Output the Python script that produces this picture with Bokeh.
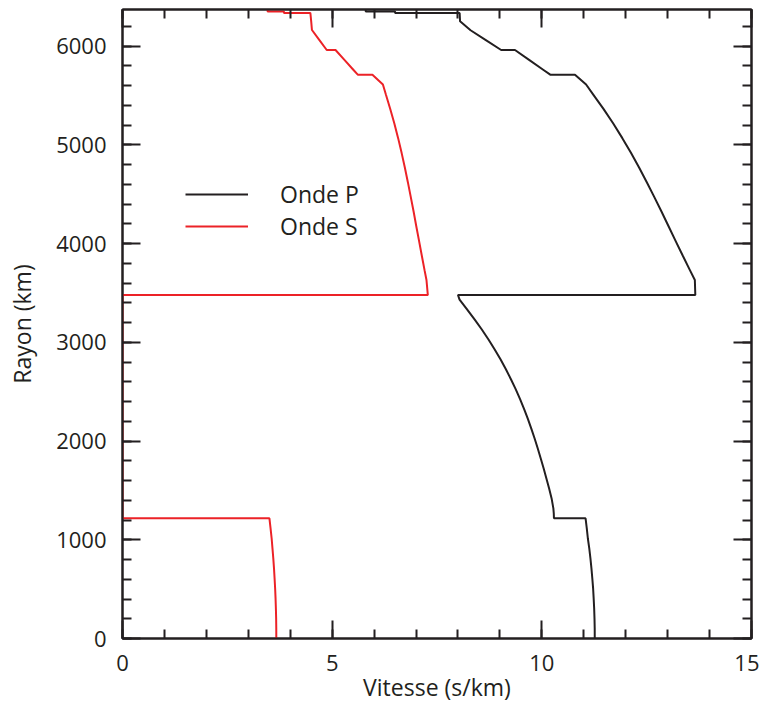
from bokeh.plotting import figure
from bokeh.models import (LinearAxis, SingleIntervalTicker, Range1d, Legend,
                          LegendItem, ColumnDataSource, CustomJSTickFormatter)
from bokeh.embed import file_html
from bokeh.resources import INLINE

# ---- data: radius (km) and velocity (ak135-like model) ----
p_radius = [6371, 6351, 6351, 6336, 6336, 6251, 6161, 6061, 5961, 5961, 5861, 5761,
            5711, 5711, 5611, 5512, 5364, 5216, 5068, 4919, 4770, 4622, 4473, 4325,
            4176, 4028, 3879, 3731, 3631, 3479.5, 3479.5, 3432, 3331, 3230, 3130,
            3029, 2928, 2828, 2727, 2626, 2526, 2425, 2324, 2224, 2123, 2023, 1922,
            1821, 1721, 1620, 1519, 1419, 1318, 1268, 1217.5, 1217.5, 1115, 1013,
            911, 811, 710, 608, 507, 406, 304, 203, 101, 0]
p_speed = [5.80, 5.80, 6.50, 6.50, 8.04, 8.05, 8.30, 8.665, 9.03, 9.36, 9.696, 10.032,
           10.20, 10.79, 11.056, 11.222, 11.470, 11.703, 11.920, 12.125, 12.319,
           12.503, 12.680, 12.853, 13.022, 13.189, 13.359, 13.531, 13.649, 13.660,
           8.000, 8.038, 8.221, 8.400, 8.569, 8.728, 8.876, 9.014, 9.143, 9.263,
           9.376, 9.481, 9.578, 9.667, 9.751, 9.830, 9.905, 9.976, 10.044, 10.109,
           10.174, 10.233, 10.275, 10.285, 10.289, 11.043, 11.072, 11.098, 11.132,
           11.159, 11.183, 11.204, 11.223, 11.236, 11.248, 11.256, 11.261, 11.262]

s_radius = [6371, 6351, 6351, 6336, 6336, 6251, 6161, 6161, 6061, 5961, 5961, 5861,
            5761, 5711, 5711, 5611, 5512, 5364, 5216, 5068, 4919, 4770, 4622, 4473,
            4325, 4176, 4028, 3879, 3731, 3631, 3479.5, 3479.5, 1217.5, 1217.5, 1115,
            1013, 911, 811, 710, 608, 507, 406, 304, 203, 101, 0]
s_speed = [3.46, 3.46, 3.85, 3.85, 4.48, 4.50, 4.518, 4.523, 4.696, 4.87, 5.08, 5.292,
           5.504, 5.61, 5.96, 6.21, 6.279, 6.385, 6.483, 6.573, 6.656, 6.733, 6.805,
           6.874, 6.942, 7.006, 7.072, 7.137, 7.203, 7.249, 7.281, 0.0, 0.0, 3.504,
           3.531, 3.557, 3.577, 3.596, 3.613, 3.627, 3.640, 3.650, 3.658, 3.664,
           3.667, 3.668]

series_labels = ["Onde P", "Onde S"]
x_label = "Vitesse (s/km)"
y_label = "Rayon (km)"

INK = "#231f20"
RED = "#ec2227"
FONT = "Open Sans"

p = figure(frame_width=629, frame_height=629,
           x_range=Range1d(0, 15), y_range=Range1d(0, 6371),
           output_backend="svg", toolbar_location=None,
           min_border_left=122, min_border_right=8, min_border_top=9,
           min_border_bottom=68)
p.grid.visible = False
p.outline_line_color = INK
p.outline_line_width = 2
p.outline_line_alpha = 1

src_p = ColumnDataSource(dict(x=p_speed, y=p_radius))
src_s = ColumnDataSource(dict(x=s_speed, y=s_radius))
rs = p.line("x", "y", source=src_s, line_color=RED, line_width=2)
rp = p.line("x", "y", source=src_p, line_color=INK, line_width=2)

def style(ax, labels=True):
    ax.axis_line_color = INK
    ax.axis_line_width = 2
    ax.major_tick_in = 18
    ax.major_tick_out = 0
    ax.minor_tick_in = 9
    ax.minor_tick_out = 0
    ax.major_tick_line_color = INK
    ax.minor_tick_line_color = INK
    ax.major_tick_line_width = 2
    ax.minor_tick_line_width = 2
    if labels:
        ax.major_label_text_font = FONT
        ax.major_label_text_font_size = "22px"
        ax.major_label_text_color = INK
        ax.axis_label_text_font = FONT
        ax.axis_label_text_font_size = "23px"
        ax.axis_label_text_font_style = "normal"
        ax.axis_label_text_color = INK
    else:
        ax.formatter = CustomJSTickFormatter(code="return ''")
        ax.major_label_standoff = 0

xt = SingleIntervalTicker(interval=5, num_minor_ticks=5)
yt = SingleIntervalTicker(interval=1000, num_minor_ticks=5)

xa = p.xaxis[0]
xa.ticker = xt
xa.axis_label = x_label
xa.major_label_standoff = 16
xa.axis_label_standoff = -3
style(xa)

ya = p.yaxis[0]
ya.ticker = yt
ya.axis_label = y_label
ya.major_label_standoff = 16
ya.axis_label_standoff = 15
style(ya)

top = LinearAxis(ticker=SingleIntervalTicker(interval=5, num_minor_ticks=5))
style(top, labels=False)
p.add_layout(top, "above")
right = LinearAxis(ticker=SingleIntervalTicker(interval=1000, num_minor_ticks=5))
style(right, labels=False)
p.add_layout(right, "right")

legend = Legend(items=[LegendItem(label=series_labels[0], renderers=[rp]),
                       LegendItem(label=series_labels[1], renderers=[rs])],
                location=(63, 396), glyph_width=63, glyph_height=24,
                label_height=24, label_standoff=32, spacing=0, padding=0,
                margin=0, border_line_color=None, background_fill_alpha=0,
                label_text_font=FONT, label_text_font_size="23px",
                label_text_color=INK)
p.add_layout(legend)

open("out.html", "w").write(file_html(p, INLINE))
